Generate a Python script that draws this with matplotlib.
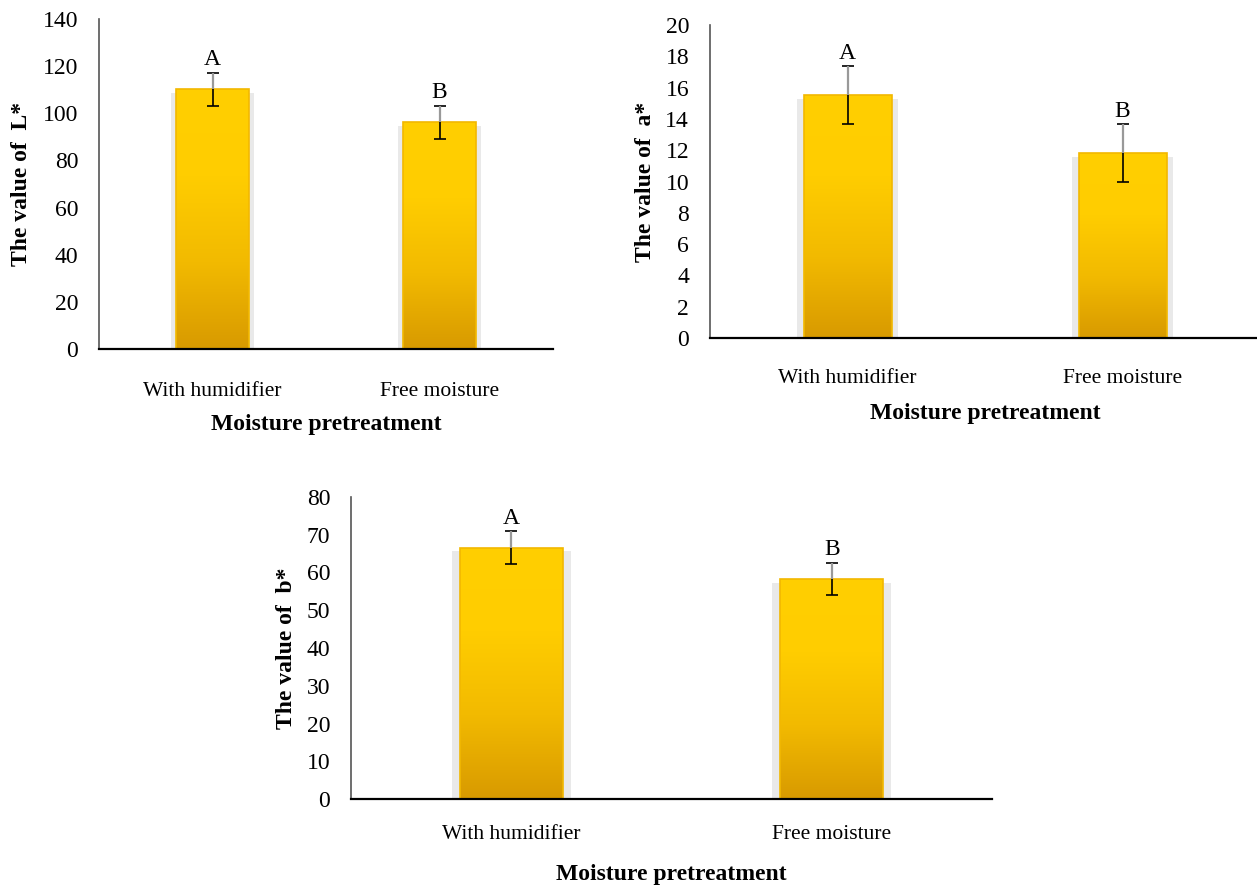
import numpy as np
import matplotlib
matplotlib.use("Agg")
import matplotlib.pyplot as plt
from matplotlib.colors import LinearSegmentedColormap

plt.rcParams['font.family'] = ['Liberation Serif', 'DejaVu Serif']

categories = ['With humidifier', 'Free moisture']
xlabel = 'Moisture pretreatment'

L_vals = [110.2, 96.3]
L_err = [7.0, 7.0]
a_vals = [15.5, 11.8]
a_err = [1.85, 1.85]
b_vals = [66.6, 58.3]
b_err = [4.3, 4.2]
letters = ['A', 'B']

# panel settings: values, errors, y label, ymax, ystep, axes rect (pixels), tick pad, label pos
panels = [
    (L_vals, L_err, 'The value of  L*', 140, 20, (99, 19, 553, 349), 24, -0.230, -0.170),
    (a_vals, a_err, 'The value of  a*', 20, 2, (710, 25, 1260, 338), 22, -0.240, -0.118),
    (b_vals, b_err, 'The value of  b*', 80, 10, (351, 497, 992, 799), 19, -0.250, -0.100),
]

W, H = 1257, 886
fig = plt.figure(figsize=(W / 100, H / 100), dpi=100)
cmap = LinearSegmentedColormap.from_list('gold', ['#D89A00', '#F2BA00', '#FFCD00', '#FFCF00'])
grad = np.linspace(0, 1, 256).reshape(-1, 1)

for vals, errs, ylab, ymax, ystep, (x0, y0, x1, y1), tpad, xly, yly in panels:
    ax = fig.add_axes([x0 / W, (H - y1) / H, (x1 - x0) / W, (y1 - y0) / H])
    x = np.arange(len(categories))
    vals = np.array(vals)
    # soft shadow behind bars
    ax.bar(x, vals - 0.012 * ymax, width=0.37, color='#e9e9e9', zorder=1)
    bars = ax.bar(x, vals, width=0.32, color='none', edgecolor='#F2B800', lw=1.2, zorder=3)
    for b in bars:
        bx, bw, bh = b.get_x(), b.get_width(), b.get_height()
        im = ax.imshow(grad, extent=[bx, bx + bw, 0, bh], origin='lower', aspect='auto',
                       cmap=cmap, zorder=2)
        im.set_clip_path(b)
    ax.errorbar(x, vals, yerr=errs, fmt='none', ecolor='black', elinewidth=1.2,
                capsize=4.5, capthick=1.2, zorder=4)
    ax.errorbar(x, vals, yerr=[np.zeros(len(errs)), errs], fmt='none', ecolor='#999999',
                elinewidth=1.6, capsize=0, zorder=5)
    for xi, v, e, t in zip(x, vals, errs, letters):
        ax.annotate(t, (xi, v + e), xytext=(0, 2), textcoords='offset points',
                    ha='center', va='bottom', fontsize=17)

    ax.set_xlim(-0.5, 1.5)
    ax.set_ylim(0, ymax)
    ax.set_yticks(np.arange(0, ymax + ystep / 2, ystep))
    ax.set_xticks(x)
    ax.set_xticklabels(categories, fontsize=15.5)
    ax.tick_params(axis='y', length=0, pad=15, labelsize=17)
    ax.tick_params(axis='x', length=0, pad=tpad)
    for s in ['top', 'right']:
        ax.spines[s].set_visible(False)
    ax.spines['left'].set_color('#555555')
    ax.spines['left'].set_linewidth(1.2)
    ax.spines['bottom'].set_color('black')
    ax.spines['bottom'].set_linewidth(1.6)
    ax.spines['bottom'].set_zorder(6)

    ax.set_xlabel(xlabel, fontsize=17, fontweight='bold')
    ax.xaxis.label.set_va('center')
    ax.xaxis.set_label_coords(0.5, xly)
    ax.set_ylabel(ylab, fontsize=17, fontweight='bold')
    ax.yaxis.label.set_va('center')
    ax.yaxis.set_label_coords(yly, 0.5)

fig.savefig('out.png', dpi=100)
